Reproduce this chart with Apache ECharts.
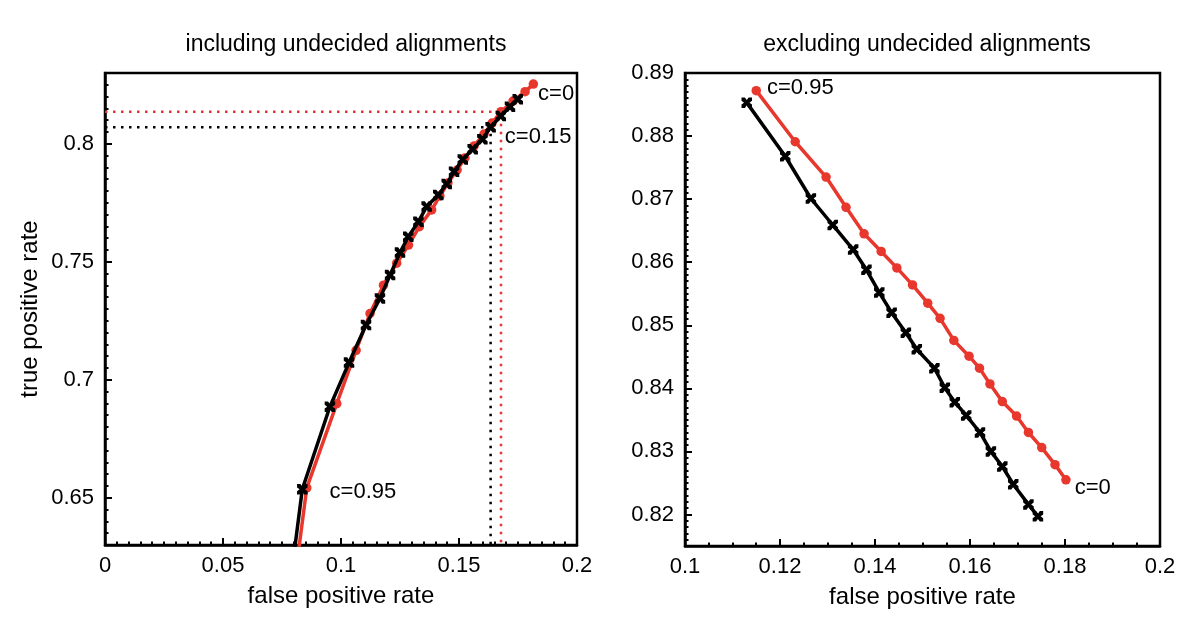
<!DOCTYPE html>
<html><head><meta charset="utf-8">
<script src="https://cdn.jsdelivr.net/npm/echarts@6/dist/echarts.min.js"></script>
<style>html,body{margin:0;padding:0;background:#fff}#c{width:1200px;height:638px}</style>
</head><body><div id="c"></div>
<script>
// thresholds c for every point (c=0 first)
const thresholds = [0,0.05,0.1,0.15,0.2,0.25,0.3,0.35,0.4,0.45,0.5,0.55,0.6,0.65,0.7,0.75,0.8,0.85,0.9,0.95];

// left panel: including undecided alignments
const incRedFPR   = [0.1815,0.1780,0.1729,0.1678,0.1640,0.1606,0.1564,0.1525,0.1492,0.1453,0.1419,0.1384,0.1332,0.1286,0.1236,0.1180,0.1123,0.1064,0.0982,0.0855];
const incRedTPR   = [0.8253,0.8221,0.8181,0.8136,0.8088,0.8041,0.7991,0.7940,0.7889,0.7834,0.7779,0.7720,0.7649,0.7571,0.7494,0.7401,0.7281,0.7125,0.6899,0.6542];
const incBlackFPR = [0.1749,0.1716,0.1677,0.1634,0.1599,0.1558,0.1516,0.1479,0.1448,0.1412,0.1363,0.1328,0.1285,0.1250,0.1208,0.1165,0.1106,0.1034,0.0953,0.0836];
const incBlackTPR = [0.8189,0.8157,0.8118,0.8070,0.8019,0.7977,0.7934,0.7882,0.7830,0.7783,0.7734,0.7670,0.7606,0.7539,0.7444,0.7345,0.7232,0.7073,0.6886,0.6536];
const incEndPoint = [0, 0]; // curve continues to the origin (below visible range)

// right panel: excluding undecided alignments
const excRedFPR   = [0.1802,0.1779,0.1751,0.1723,0.1698,0.1668,0.1642,0.1620,0.1598,0.1566,0.1537,0.1511,0.1479,0.1446,0.1413,0.1377,0.1339,0.1297,0.1232,0.1150];
const excRedTPR   = [0.8255,0.8279,0.8306,0.8330,0.8356,0.8379,0.8407,0.8432,0.8451,0.8476,0.8511,0.8535,0.8564,0.8591,0.8617,0.8645,0.8687,0.8735,0.8791,0.8872];
const excBlackFPR = [0.1743,0.1723,0.1691,0.1668,0.1644,0.1621,0.1592,0.1568,0.1547,0.1525,0.1488,0.1465,0.1435,0.1409,0.1382,0.1354,0.1311,0.1265,0.1211,0.1130];
const excBlackTPR = [0.8197,0.8216,0.8248,0.8276,0.8300,0.8330,0.8357,0.8378,0.8401,0.8432,0.8462,0.8488,0.8520,0.8552,0.8588,0.8620,0.8659,0.8701,0.8768,0.8853];

// tick labels
const leftXTicks  = [0,0.05,0.1,0.15,0.2];
const leftYTicks  = [0.65,0.7,0.75,0.8];
const rightXTicks = [0.1,0.12,0.14,0.16,0.18,0.2];
const rightYTicks = [0.82,0.83,0.84,0.85,0.86,0.87,0.88,0.89];

const titles = ['including undecided alignments','excluding undecided alignments'];
const xName = 'false positive rate';
const yName = 'true positive rate';

const FONT = 'Liberation Sans, Arial, Helvetica, sans-serif';
const RED = '#e8372c';
const BLACK = '#000';
const CROSS = 'path://M0,0 L3.2,0 L5,2.4 L6.8,0 L10,0 L10,3.2 L7.6,5 L10,6.8 L10,10 L6.8,10 L5,7.6 L3.2,10 L0,10 L0,6.8 L2.4,5 L0,3.2 Z';

function fmt(v){ return String(+(+v).toFixed(3)); }
function isTick(list){ return v => list.some(t => Math.abs(t - v) < 1e-7); }

function pts(xs, ys, labels, extra){
  const d = xs.map((x,i) => {
    const lb = labels && labels[i];
    if (lb) return {value:[x, ys[i]], label:Object.assign({show:true, position:'right', color:'#000', fontSize:22, fontFamily:FONT}, lb)};
    return [x, ys[i]];
  });
  if (extra) d.push(extra.slice());
  return d;
}
const idx = c => thresholds.indexOf(c);

const axisLabelStyle = {color:'#000', fontSize:22, fontFamily:FONT};

function xAxis(grid, min, max, interval, split){
  return {type:'value', gridIndex:grid, min, max, interval,
    name:xName, nameLocation:'middle', nameGap:39,
    nameTextStyle:{color:'#000', fontSize:24, fontFamily:FONT},
    axisLine:{show:true, onZero:false, lineStyle:{color:'#000', width:2.5}},
    axisTick:{show:true, inside:true, length:7, lineStyle:{color:'#000', width:2}},
    minorTick:{show:true, splitNumber:split, length:3.5, lineStyle:{color:'#000', width:2}},
    axisLabel:Object.assign({margin:10, formatter:fmt}, axisLabelStyle),
    splitLine:{show:false}, minorSplitLine:{show:false}};
}
function yAxisMinor(grid, min, max, step, labelTicks, name){
  const ok = isTick(labelTicks);
  return {type:'value', gridIndex:grid, min, max, interval:step,
    name:name||'', nameLocation:'middle', nameGap:63,
    nameTextStyle:{color:'#000', fontSize:24, fontFamily:FONT},
    axisLine:{show:true, onZero:false, lineStyle:{color:'#000', width:2.5}},
    axisTick:{show:true, inside:true, length:3.5, lineStyle:{color:'#000', width:2}},
    axisLabel:Object.assign({margin:11, customValues:labelTicks, formatter:v => ok(v) ? fmt(v) : ''}, axisLabelStyle),
    splitLine:{show:false}};
}
function yAxisMajor(grid, min, max, step, labelTicks){
  return {type:'value', gridIndex:grid, min, max, interval:step, position:'left',
    axisLine:{show:false},
    axisTick:{show:true, inside:true, length:7, customValues:labelTicks, lineStyle:{color:'#000', width:2}},
    axisLabel:{show:false}, splitLine:{show:false}};
}

const i015 = idx(0.15);
const bX = incBlackFPR[i015], bY = incBlackTPR[i015];
const rX = incRedFPR[i015],   rY = incRedTPR[i015];

const incRedLabels = {}; incRedLabels[idx(0)] = {formatter:'c=0', offset:[-5,10]};
const incBlackLabels = {}; incBlackLabels[i015] = {formatter:'c=0.15', offset:[4,10]};
incBlackLabels[idx(0.95)] = {formatter:'c=0.95', offset:[17,3]};
const excRedLabels = {}; excRedLabels[idx(0)] = {formatter:'c=0', offset:[-1,8]};
excRedLabels[idx(0.95)] = {formatter:'c=0.95', offset:[1,-3]};

const titleStyle = {fontSize:23, fontWeight:'normal', color:'#000', fontFamily:FONT};
const option = {
  backgroundColor:'#fff',
  animation:false,
  textStyle:{fontFamily:FONT},
  title:[
    {text:titles[0], left:341, top:28, textAlign:'center', textStyle:titleStyle},
    {text:titles[1], left:922, top:28, textAlign:'center', textStyle:titleStyle}
  ],
  grid:[
    {left:105, top:73, width:472, height:472, show:true, borderColor:'#000', borderWidth:2.5, backgroundColor:'transparent'},
    {left:685, top:73, width:475, height:473, show:true, borderColor:'#000', borderWidth:2.5, backgroundColor:'transparent'}
  ],
  xAxis:[
    xAxis(0, leftXTicks[0], leftXTicks[leftXTicks.length-1], 0.05, 10),
    xAxis(1, rightXTicks[0], rightXTicks[rightXTicks.length-1], 0.02, 4)
  ],
  yAxis:[
    yAxisMinor(0, 0.63, 0.83, 0.005, leftYTicks, yName),
    yAxisMajor(0, 0.63, 0.83, 0.005, leftYTicks),
    yAxisMinor(1, 0.815, 0.89, 0.001, rightYTicks),
    yAxisMajor(1, 0.815, 0.89, 0.001, rightYTicks)
  ],
  series:[
    {type:'line', xAxisIndex:0, yAxisIndex:0, symbol:'none', silent:true, z:1,
      lineStyle:{color:RED, width:2.5, type:[2.5,5.5]},
      data:[[leftXTicks[0], rY],[rX, rY],[rX, 0.63]]},
    {type:'line', xAxisIndex:0, yAxisIndex:0, symbol:'none', silent:true, z:1,
      lineStyle:{color:BLACK, width:2.5, type:[2.5,5.5]},
      data:[[leftXTicks[0], bY],[bX, bY],[bX, 0.63]]},
    {type:'line', xAxisIndex:0, yAxisIndex:0, z:2, symbol:'circle', symbolSize:9.5, showAllSymbol:true,
      itemStyle:{color:RED}, lineStyle:{color:RED, width:3.5},
      data:pts(incRedFPR, incRedTPR, incRedLabels, incEndPoint)},
    {type:'line', xAxisIndex:0, yAxisIndex:0, z:3, symbol:CROSS, symbolSize:10.5, showAllSymbol:true,
      itemStyle:{color:BLACK}, lineStyle:{color:BLACK, width:3.5},
      data:pts(incBlackFPR, incBlackTPR, incBlackLabels, incEndPoint)},
    {type:'line', xAxisIndex:1, yAxisIndex:2, z:2, symbol:'circle', symbolSize:9.5, showAllSymbol:true,
      itemStyle:{color:RED}, lineStyle:{color:RED, width:3.5},
      data:pts(excRedFPR, excRedTPR, excRedLabels)},
    {type:'line', xAxisIndex:1, yAxisIndex:2, z:3, symbol:CROSS, symbolSize:10.5, showAllSymbol:true,
      itemStyle:{color:BLACK}, lineStyle:{color:BLACK, width:3.5},
      data:pts(excBlackFPR, excBlackTPR, null)}
  ]
};
const chart = echarts.init(document.getElementById('c'), null, {renderer:'canvas'});
chart.setOption(option);
</script>
</body></html>
